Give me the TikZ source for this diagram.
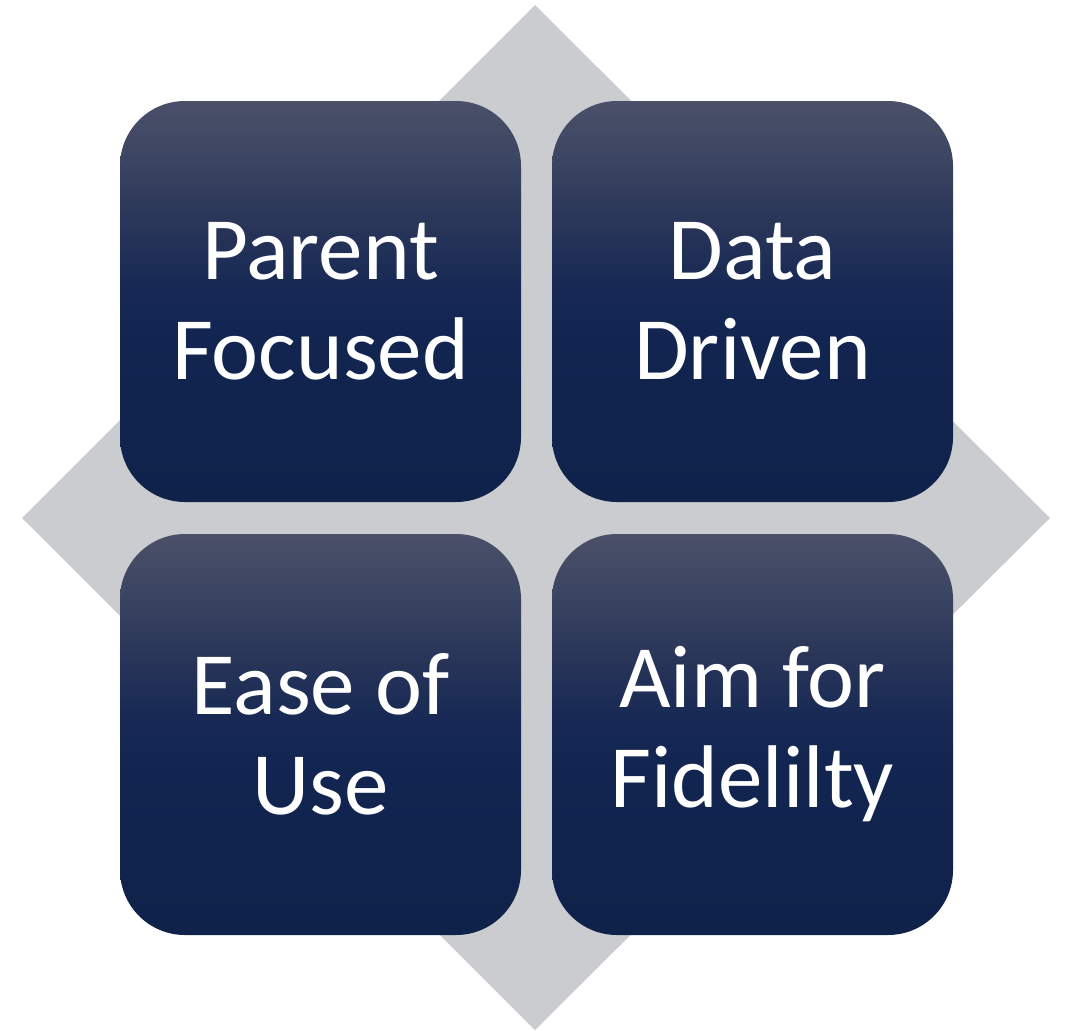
\documentclass[tikz,border=0pt]{standalone}
\usepackage{fontspec}
\setmainfont{Carlito}
\definecolor{diamondgrey}{HTML}{CBCCD0}
\definecolor{navyA}{HTML}{0E224A}
\definecolor{navyB}{HTML}{112550}
\definecolor{navyC}{HTML}{172954}
\definecolor{navyD}{HTML}{2A3659}
\definecolor{navyE}{HTML}{3C4562}
\definecolor{navyF}{HTML}{4A5068}
\pgfdeclareverticalshading{boxshade}{100bp}{color(0bp)=(navyA); color(25bp)=(navyA); color(45bp)=(navyB); color(52bp)=(navyC); color(60bp)=(navyD); color(68bp)=(navyE); color(75bp)=(navyF); color(100bp)=(navyF)}
\begin{document}
\begin{tikzpicture}[x=1pt,y=-1pt,
  box/.style={rectangle, rounded corners=65pt, minimum width=401pt, minimum height=401pt,
    inner sep=0pt, shading=boxshade, text=white, align=center,
    font=\fontsize{89}{100}\selectfont}]
\useasboundingbox (0,0) rectangle (1066,1031);
\fill[diamondgrey] (535,5) -- (1050,518) -- (535,1030) -- (22,518) -- cycle;
\node[box] (pf) at (320.5,301.5) {Parent\\Focused};
\node[box] (dd) at (752.5,301.5) {Data\\Driven};
\node[box] (eu) at (320.5,734.5) {Ease of\\Use};
\node[box] (af) at (752.5,734.5) {Aim for\\Fidelilty};
\end{tikzpicture}
\end{document}
